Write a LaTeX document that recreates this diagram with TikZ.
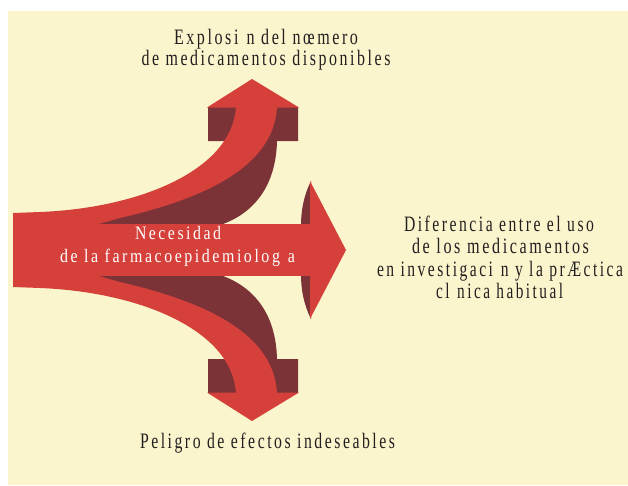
\documentclass[tikz,border=0pt]{standalone}
\usepackage{fontspec}
\setmainfont{Liberation Serif}[LetterSpace=16]
\usepackage{graphicx}
\definecolor{cream}{HTML}{FAF5CC}
\definecolor{arrred}{HTML}{D5403A}
\definecolor{arrdark}{HTML}{7B3338}
\definecolor{textcol}{HTML}{231F20}
\newcommand{\fitw}[2]{\resizebox{#1pt}{\height}{#2}}
\newcommand{\branchparts}{%
  % dark side of the curved band and the dark block
  \fill[arrdark] (80,224) -- (223,224) .. controls (255,212) and (276,185) .. (277,141)
     -- (298,141) -- (298,107) -- (208,107) -- (208,141) -- (231,141)
     -- (200,182) -- (100,216) -- cycle;
  % red curved band
  \fill[arrred] (13,213) -- (40,212) .. controls (140,208) and (232,170) .. (236,107)
     -- (277,107) .. controls (274,160) and (220,195) .. (120,218)
     -- (60,235) -- (13,240) -- cycle;
  % red head
  \fill[arrred] (207,107.5) -- (252,79) -- (299,107.5) -- cycle;
}
\tikzset{
  txt/.style={inner sep=0pt, outer sep=0pt, anchor=base, text=textcol,
    font=\fontsize{22}{22}\selectfont},
  wtxt/.style={inner sep=0pt, outer sep=0pt, anchor=base, text=white,
    font=\fontsize{19}{19}\selectfont}
}
\begin{document}
\begin{tikzpicture}[x=1pt,y=-1pt]
\useasboundingbox (0,0) rectangle (628,485);
\fill[white] (0,0) rectangle (628,485);
\fill[cream] (8,11) rectangle (628,485);
% upper branch
\branchparts
% lower branch (mirror about y=250)
\begin{scope}[yshift=-500pt, yscale=-1]
\branchparts
\end{scope}
% middle arrow
\fill[arrdark] (311,181) .. controls (304,195) and (301,210) .. (301,225) -- (312,225) -- cycle;
\fill[arrdark] (311,319) .. controls (304,305) and (301,290) .. (301,275) -- (312,275) -- cycle;
\fill[arrred] (13,224) rectangle (312,276);
\fill[arrred] (310,181) -- (346,250) -- (310,319) -- cycle;
% texts
\node[txt] (top1) at (266,44.5) {\fitw{184}{Explosi\enspace n del nœmero}};
\node[txt] (top2) at (266,65) {\fitw{249}{de medicamentos disponibles}};
\node[txt] (bot) at (267.5,448) {\fitw{255}{Peligro de efectos indeseables}};
\node[txt] (r1) at (499,231) {\fitw{190}{Diferencia entre el uso}};
\node[txt] (r2) at (500.5,253) {\fitw{177}{de los medicamentos}};
\node[txt] (r3) at (500,276) {\fitw{246}{en investigaci\enspace n y la prÆctica}};
\node[txt] (r4) at (499.5,298) {\fitw{127}{cl\enspace nica habitual}};
\node[wtxt] (c1) at (178,239) {\fitw{86}{Necesidad}};
\node[wtxt] (c2) at (177.5,262) {\fitw{235}{de la farmacoepidemiolog\enspace a}};
\end{tikzpicture}
\end{document}
